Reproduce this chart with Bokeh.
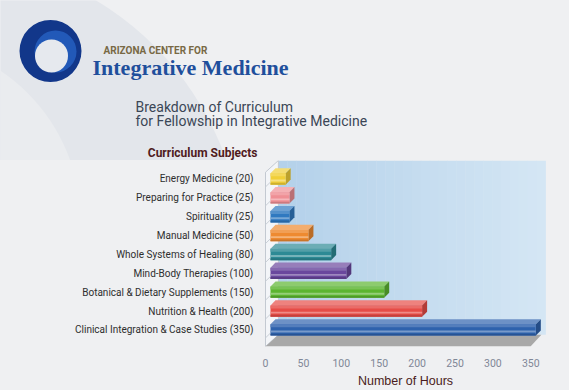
from bokeh.plotting import figure
from bokeh.models import Label, FixedTicker, Range1d
from bokeh.layouts import column, row
from bokeh.embed import file_html
from bokeh.resources import INLINE

# ---------------- data ----------------
subjects = ["Clinical Integration & Case Studies", "Nutrition & Health",
            "Botanical & Dietary Supplements", "Mind-Body Therapies",
            "Whole Systems of Healing", "Manual Medicine", "Spirituality",
            "Preparing for Practice", "Energy Medicine"]
hours = [350, 200, 150, 100, 80, 50, 25, 25, 20]
bar_colors = ["#2e62ad", "#e64c47", "#5cb530", "#6a479d", "#2d8a95",
              "#ee8a30", "#2f79c0", "#ef8f95", "#f1cf38"]
x_ticks = [0, 50, 100, 150, 200, 250, 300, 350]
labels = [f"{s} ({h})" for s, h in zip(subjects, hours)]

BG = "#eff0f2"
FONT = "Roboto"
W = 569


def shade(hexc, f):
    c = [int(hexc[i:i + 2], 16) for i in (1, 3, 5)]
    if f >= 0:
        c = [round(v + (255 - v) * f) for v in c]
    else:
        c = [round(v * (1 + f)) for v in c]
    return "#%02x%02x%02x" % tuple(c)


# ---------------- header (logo + titles) ----------------
HH = 160
h = figure(width=W, height=HH, x_range=Range1d(0, W), y_range=Range1d(0, HH),
           output_backend="svg", toolbar_location=None,
           min_border_left=0, min_border_right=0, min_border_top=0, min_border_bottom=0)
h.xaxis.visible = False
h.yaxis.visible = False
h.grid.visible = False
h.outline_line_color = None
h.background_fill_color = BG
h.border_fill_color = BG

# decorative background swoosh
h.circle(x=[-60], y=[HH - 260], radius=303, fill_color="#e3e6eb", line_color=None)
h.circle(x=[-100], y=[HH - 220], radius=180, fill_color="#eaecef", line_color=None)

# logo ring
h.circle(x=[50], y=[HH - 50.5], radius=31, fill_color="#12378a", line_color=None)
h.circle(x=[55], y=[HH - 51], radius=21, fill_color="#2259b8", line_color=None)
h.circle(x=[51], y=[HH - 55.5], radius=16.5, fill_color="#e6e9ee", line_color=None)

h.add_layout(Label(x=103, y=HH - 50, text="ARIZONA CENTER FOR", text_font=FONT,
                   text_font_style="bold", text_font_size="10px",
                   text_color="#786945", text_baseline="alphabetic"))
h.add_layout(Label(x=92, y=HH - 67, text="Integrative Medicine", text_font="Liberation Serif",
                   text_font_style="bold", text_font_size="22px",
                   text_color="#1f4f9c", text_baseline="alphabetic"))
h.add_layout(Label(x=135, y=HH - 106.5, text="Breakdown of Curriculum", text_font=FONT,
                   text_font_size="14px", text_color="#3b4656", text_baseline="alphabetic"))
h.add_layout(Label(x=135, y=HH - 120.5, text="for Fellowship in Integrative Medicine",
                   text_font=FONT, text_font_size="14px", text_color="#3b4656",
                   text_baseline="alphabetic"))
h.add_layout(Label(x=257, y=HH - 152, text="Curriculum Subjects", text_font=FONT,
                   text_font_style="bold", text_font_size="12px", text_color="#4f1b20",
                   text_align="right", text_baseline="alphabetic"))

# ---------------- chart ----------------
YR = (-0.877, 8.98)
p = figure(width=W, height=390 - HH, x_range=Range1d(-6.6, 376), y_range=Range1d(*YR),
           output_backend="svg", toolbar_location=None,
           min_border_left=260, min_border_right=19, min_border_top=0, min_border_bottom=39)
p.grid.visible = False
p.outline_line_color = None
p.background_fill_color = BG
p.border_fill_color = BG

# back wall (gradient strips)
n = 30
x0w, x1w = 17.0, 369.4
c1 = (0xb4, 0xd1, 0xea)
c2 = (0xd4, 0xe6, 0xf4)
for k in range(n):
    t = k / (n - 1)
    col = "#%02x%02x%02x" % tuple(round(a + (b - a) * t) for a, b in zip(c1, c2))
    p.quad(left=[x0w + (x1w - x0w) * k / n], right=[x0w + (x1w - x0w) * (k + 1) / n + 0.5],
           bottom=[-0.26], top=[YR[1]], fill_color=col, line_color=None)

# left wall
p.patch(x=[0, 0, 17, 17], y=[-0.88, YR[1] - 0.62, YR[1], -0.26], fill_color="#f3f5f8",
        line_color="#c3c9d1", line_width=1)
idx = list(range(len(hours)))
p.segment(x0=[0] * len(idx), y0=[i - 0.42 for i in idx], x1=[6.6] * len(idx),
          y1=[i - 0.16 for i in idx], line_color="#c9cfd6", line_width=1)

# floor
p.patch(x=[0, 349.6, 364, 17], y=[-0.88, -0.88, -0.26, -0.26], fill_color="#a8a8a8",
        line_color=None)

# 3D bars
dx, dy, hh = 6.6, 0.27, 0.3
bx0 = 6.6
for i, v in enumerate(hours):
    c = bar_colors[i]
    x1 = bx0 + v
    p.patch(x=[bx0, x1, x1 + dx, bx0 + dx], y=[i + hh, i + hh, i + hh + dy, i + hh + dy],
            fill_color=shade(c, 0.3), line_color=None)
    p.patch(x=[x1, x1 + dx, x1 + dx, x1], y=[i - hh, i - hh + dy, i + hh + dy, i + hh],
            fill_color=shade(c, -0.22), line_color=None)
    p.quad(left=[bx0], right=[x1], bottom=[i - hh], top=[i + hh], fill_color=c, line_color=None)
    p.quad(left=[bx0], right=[x1], bottom=[i + 0.14], top=[i + hh], fill_color=shade(c, 0.18),
           line_color=None)
    p.quad(left=[bx0], right=[x1], bottom=[i - 0.13], top=[i - 0.03], fill_color=shade(c, 0.35),
           line_color=None)
    p.quad(left=[bx0], right=[x1], bottom=[i - hh], top=[i - 0.2], fill_color=shade(c, -0.15),
           line_color=None)

p.xaxis.ticker = FixedTicker(ticks=x_ticks)
p.xaxis.axis_line_color = None
p.xaxis.major_tick_line_color = None
p.xaxis.minor_tick_line_color = None
p.xaxis.major_label_standoff = 6
p.xaxis.major_label_text_font = FONT
p.xaxis.major_label_text_font_size = "10.5px"
p.xaxis.major_label_text_color = "#7f8797"
p.xaxis.axis_label = "Number of Hours"
p.xaxis.axis_label_standoff = 4
p.xaxis.axis_label_text_font = "Liberation Sans"
p.xaxis.axis_label_text_font_style = "normal"
p.xaxis.axis_label_text_font_size = "12.5px"
p.xaxis.axis_label_text_color = "#4a1c20"

p.yaxis.ticker = FixedTicker(ticks=idx)
p.yaxis.major_label_overrides = {i: lab for i, lab in enumerate(labels)}
p.yaxis.axis_line_color = None
p.yaxis.major_tick_line_color = None
p.yaxis.minor_tick_line_color = None
p.yaxis.major_label_standoff = 1
p.yaxis.major_label_text_font = FONT
p.yaxis.major_label_text_font_size = "10px"
p.yaxis.major_label_text_color = "#2e2e2e"

layout = column(row(h), p, spacing=0, styles={"background-color": BG})
open("out.html", "w").write(file_html(layout, INLINE))
